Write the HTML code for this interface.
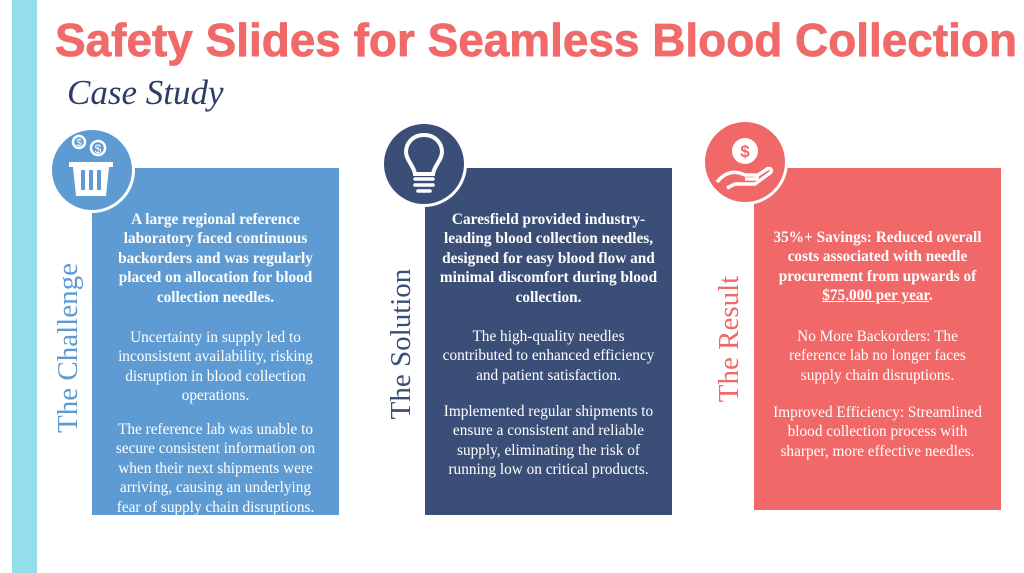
<!DOCTYPE html>
<html><head><style>
body{margin:0;width:1024px;height:573px;background:#fff;position:relative;overflow:hidden;font-family:"Liberation Serif",serif}
.a{position:absolute}
.box{position:absolute;top:168px;width:247px}
.t{position:absolute;left:-5px;width:257px;text-align:center;color:#fff;font-size:15.3px;line-height:19.4px;white-space:nowrap}
.b{font-weight:bold}
.circ{position:absolute;width:80px;height:80px;border-radius:50%;border:3px solid #fff;box-sizing:content-box}
.v{position:absolute;font-size:29px;transform:rotate(-90deg);transform-origin:center;white-space:nowrap;text-align:center;width:200px;height:34px;line-height:34px}
</style></head><body>
<div class="a" style="left:12px;top:0;width:25px;height:573px;background:#94DEEC"></div>
<svg class="a" style="left:0;top:0" width="1024" height="120">
<text x="55" y="56" fill="#F06A6A" font-family="Liberation Sans, sans-serif" font-weight="bold" font-size="46" textLength="962" lengthAdjust="spacingAndGlyphs" stroke="#F06A6A" stroke-width="0.8">Safety Slides for Seamless Blood Collection</text>
<text x="67" y="104" fill="#2E3D66" font-family="Liberation Serif, serif" font-style="italic" font-size="35">Case Study</text>
</svg>

<div class="box" style="left:92px;height:347px;background:#5E9BD2">
<div class="t b" style="top:42px">A large regional reference<br>laboratory faced continuous<br>backorders and was regularly<br>placed on allocation for blood<br>collection needles.</div>
<div class="t" style="top:160px">Uncertainty in supply led to<br>inconsistent availability, risking<br>disruption in blood collection<br>operations.</div>
<div class="t" style="top:252px">The reference lab was unable to<br>secure consistent information on<br>when their next shipments were<br>arriving, causing an underlying<br>fear of supply chain disruptions.</div>
</div>
<div class="box" style="left:425px;height:347px;background:#3A4E78">
<div class="t b" style="top:42px">Caresfield provided industry-<br>leading blood collection needles,<br>designed for easy blood flow and<br>minimal discomfort during blood<br>collection.</div>
<div class="t" style="top:159px">The high-quality needles<br>contributed to enhanced efficiency<br>and patient satisfaction.</div>
<div class="t" style="top:234px">Implemented regular shipments to<br>ensure a consistent and reliable<br>supply, eliminating the risk of<br>running low on critical products.</div>
</div>
<div class="box" style="left:754px;top:168px;height:342px;background:#F06868">
<div class="t b" style="top:60px">35%+ Savings: Reduced overall<br>costs associated with needle<br>procurement from upwards of<br><u>$75,000 per year</u>.</div>
<div class="t" style="top:159px">No More Backorders: The<br>reference lab no longer faces<br>supply chain disruptions.</div>
<div class="t" style="top:235px">Improved Efficiency: Streamlined<br>blood collection process with<br>sharper, more effective needles.</div>
</div>

<div class="v" style="left:-32px;top:331px;color:#5E9BD2">The Challenge</div>
<div class="v" style="left:301px;top:327px;color:#3A4E78">The Solution</div>
<div class="v" style="left:629px;top:322px;color:#F06868">The Result</div>

<div class="circ" style="left:49px;top:127px;background:#5E9BD2"></div>
<svg class="a" style="left:52px;top:130px" width="80" height="80" viewBox="0 0 80 80">
<g fill="none" stroke="#fff" stroke-width="2.5"><circle cx="27" cy="12" r="6"/><circle cx="46" cy="18" r="7"/></g>
<text x="27" y="16" fill="#fff" font-size="10" text-anchor="middle" font-family="Liberation Sans">$</text>
<text x="46" y="23" fill="#fff" font-size="12" text-anchor="middle" font-family="Liberation Sans">$</text>
<path d="M17 32 H61 V37 H57 L54 66 H24 L21 37 H17 Z" fill="#fff"/>
<g stroke="#5E9BD2" stroke-width="4"><line x1="31" y1="40" x2="31" y2="60"/><line x1="39" y1="40" x2="39" y2="60"/><line x1="47" y1="40" x2="47" y2="60"/></g>
</svg>
<div class="circ" style="left:381px;top:121px;background:#3A4E78"></div>
<svg class="a" style="left:384px;top:124px" width="80" height="80" viewBox="0 0 80 80">
<path d="M40 11 C28 11 22 20 22 28 C22 36 30 42 31 50 H49 C50 42 58 36 58 28 C58 20 52 11 40 11 Z" fill="none" stroke="#fff" stroke-width="4"/>
<g stroke="#fff" stroke-width="3.5" stroke-linecap="round"><line x1="31" y1="55" x2="49" y2="55"/><line x1="31" y1="61" x2="49" y2="61"/><line x1="34" y1="67" x2="46" y2="67"/></g>
</svg>
<div class="circ" style="left:702px;top:119px;background:#F06868"></div>
<svg class="a" style="left:705px;top:122px" width="80" height="80" viewBox="0 0 80 80">
<circle cx="40" cy="29" r="13" fill="#fff"/>
<text x="40" y="35" fill="#F06868" font-size="17" font-weight="bold" text-anchor="middle" font-family="Liberation Sans">$</text>
<path d="M12 60 C20 50 30 48 40 53 H50 C53 53 53 57 50 57 H40 M50 55 L62 47 C66 45 68 49 65 51 L50 62 H30 L22 66" fill="none" stroke="#fff" stroke-width="3.5" stroke-linejoin="round"/>
</svg>
</body></html>
